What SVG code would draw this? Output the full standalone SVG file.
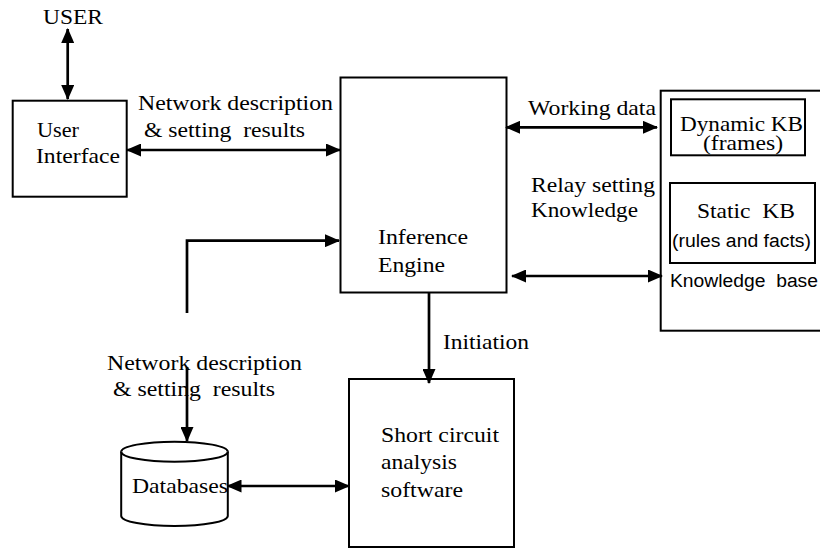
<svg xmlns="http://www.w3.org/2000/svg" width="820" height="548" viewBox="0 0 820 548">
<defs>
<style>
.box{fill:#fff;stroke:#000;stroke-width:2}
.t{font-family:'Liberation Serif','Times New Roman',serif;font-size:21px;fill:#000;white-space:pre}
.a{font-family:'Liberation Sans',Arial,sans-serif;font-size:18px;fill:#000;white-space:pre}
.c{fill:none;stroke:#000;stroke-width:2.7}
</style>
<marker id="ah" viewBox="0 0 15 13" refX="14" refY="6.5" markerWidth="15" markerHeight="13" markerUnits="userSpaceOnUse" orient="auto-start-reverse">
<path d="M0,0 L15,6.5 L0,13 z" fill="#000"/>
</marker>
</defs>
<rect width="820" height="548" fill="#fff"/>

<g id="user">
<text class="t" x="43" y="24" textLength="60" lengthAdjust="spacingAndGlyphs">USER</text>
</g>

<g id="user-interface">
<rect class="box" x="12.7" y="100.7" width="114" height="96"/>
<text class="t" x="37" y="137" textLength="42" lengthAdjust="spacingAndGlyphs">User</text>
<text class="t" x="36" y="163" textLength="84" lengthAdjust="spacingAndGlyphs">Interface</text>
</g>

<g id="inference-engine">
<rect class="box" x="340.5" y="77.5" width="166" height="215"/>
<text class="t" x="378" y="244" textLength="90" lengthAdjust="spacingAndGlyphs">Inference</text>
<text class="t" x="378" y="272" textLength="67" lengthAdjust="spacingAndGlyphs">Engine</text>
</g>

<g id="knowledge-base">
<rect class="box" x="660.7" y="90.7" width="170" height="240"/>
<text class="a" x="670" y="287" textLength="148" lengthAdjust="spacingAndGlyphs">Knowledge  base</text>
</g>

<g id="dynamic-kb">
<rect class="box" x="671" y="99.3" width="134" height="56"/>
<text class="t" x="680" y="131" font-size="18" textLength="123" lengthAdjust="spacingAndGlyphs">Dynamic KB</text>
<text class="t" x="703" y="150" font-size="16" textLength="80" lengthAdjust="spacingAndGlyphs">(frames)</text>
</g>

<g id="static-kb">
<rect class="box" x="670" y="183" width="145" height="80"/>
<text class="t" x="697" y="218" textLength="98" lengthAdjust="spacingAndGlyphs">Static  KB</text>
<text class="a" x="672" y="247" textLength="139" lengthAdjust="spacingAndGlyphs">(rules and facts)</text>
</g>

<g id="short-circuit">
<rect class="box" x="349" y="379" width="165" height="168"/>
<text class="t" x="381" y="442" textLength="118" lengthAdjust="spacingAndGlyphs">Short circuit</text>
<text class="t" x="381" y="469" textLength="76" lengthAdjust="spacingAndGlyphs">analysis</text>
<text class="t" x="381" y="497" textLength="82" lengthAdjust="spacingAndGlyphs">software</text>
</g>

<g id="databases">
<path class="box" d="M121.2,451.7 L121.2,516 A53.3,10 0 0 0 227.8,516 L227.8,451.7 A53.3,10 0 0 0 121.2,451.7 Z"/>
<path class="box" fill="none" d="M121.2,451.7 A53.3,10 0 0 0 227.8,451.7"/>
<text class="t" x="132" y="493" textLength="96" lengthAdjust="spacingAndGlyphs">Databases</text>
</g>

<g id="connectors">
<line class="c" x1="67.7" y1="29" x2="67.7" y2="99" marker-start="url(#ah)" marker-end="url(#ah)"/>
<line class="c" x1="127" y1="150" x2="340" y2="150" marker-start="url(#ah)" marker-end="url(#ah)"/>
<line class="c" x1="506" y1="127.3" x2="657" y2="127.3" marker-start="url(#ah)" marker-end="url(#ah)"/>
<line class="c" x1="512" y1="276" x2="662" y2="276" marker-start="url(#ah)" marker-end="url(#ah)"/>
<path class="c" d="M187,313 V240.7 H339" marker-end="url(#ah)"/>
<line class="c" x1="429" y1="292" x2="429" y2="383" marker-end="url(#ah)"/>
<line class="c" x1="187" y1="367" x2="187" y2="441" marker-end="url(#ah)"/>
<line class="c" x1="227.5" y1="486" x2="349" y2="486" marker-start="url(#ah)" marker-end="url(#ah)"/>
</g>

<g id="labels">
<text class="t" x="138" y="110" textLength="195" lengthAdjust="spacingAndGlyphs">Network description</text>
<text class="t" x="144" y="137" textLength="161" lengthAdjust="spacingAndGlyphs">&amp; setting  results</text>
<text class="t" x="528" y="115" textLength="128" lengthAdjust="spacingAndGlyphs">Working data</text>
<text class="t" x="531" y="192" textLength="124" lengthAdjust="spacingAndGlyphs">Relay setting</text>
<text class="t" x="531" y="217" textLength="107" lengthAdjust="spacingAndGlyphs">Knowledge</text>
<text class="t" x="443" y="349" textLength="86" lengthAdjust="spacingAndGlyphs">Initiation</text>
<text class="t" x="107" y="370" textLength="195" lengthAdjust="spacingAndGlyphs">Network description</text>
<text class="t" x="113" y="396" textLength="162" lengthAdjust="spacingAndGlyphs">&amp; setting  results</text>
</g>
</svg>
